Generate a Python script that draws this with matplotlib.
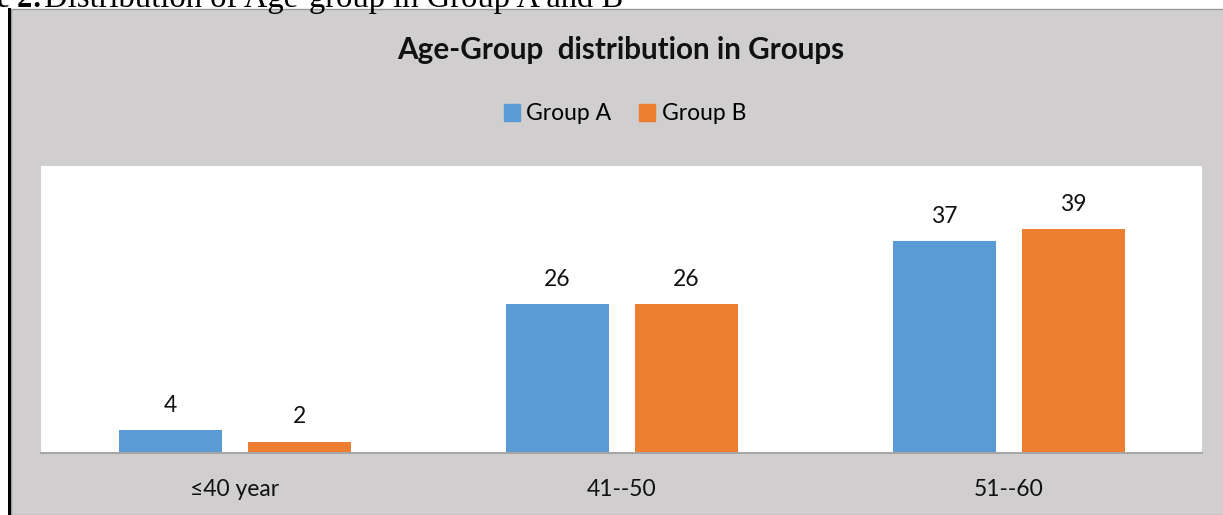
import matplotlib.pyplot as plt
import matplotlib.patches as mpatches
import numpy as np

# data
categories = ["\u226440 year", "41--50", "51--60"]
group_a = [4, 26, 37]
group_b = [2, 26, 39]
series_names = ["Group A", "Group B"]

W, H = 1223, 515
fig = plt.figure(figsize=(W / 100, H / 100), dpi=100)
fig.patch.set_facecolor("white")

def fx(px):
    return px / W

def fy(py):
    return 1 - py / H

# grey chart panel with the black page border on the left
fig.patches.append(mpatches.Rectangle((fx(11), 0), fx(W), fy(9), transform=fig.transFigure,
                                      facecolor="#D0CECE", edgecolor="#9A9A9A", lw=1, zorder=-2))
fig.patches.append(mpatches.Rectangle((fx(8), 0), fx(3), fy(8), transform=fig.transFigure,
                                      facecolor="black", edgecolor="none", zorder=-1))

# caption cut at the top of the page
fig.text(fx(-4), fy(7), "e 2:", family="Liberation Serif", fontweight="bold",
         fontsize=22, va="baseline", ha="left")
fig.text(fx(44), fy(7), "Distribution of Age-group in Group A and B", family="Liberation Serif",
         fontsize=23.5, va="baseline", ha="left")

ax = fig.add_axes([fx(41), 1 - 453 / H, fx(1202 - 41), (453 - 166) / H])
ax.set_facecolor("white")
ax.set_zorder(1)

x = np.arange(len(categories))
bw = 103 / 387
gap = 26 / 387
blue = "#5B9BD5"
orange = "#ED7D31"
b1 = ax.bar(x - (bw + gap) / 2, group_a, width=bw, color=blue, zorder=2)
b2 = ax.bar(x + (bw + gap) / 2, group_b, width=bw, color=orange, zorder=2)

for bars in (b1, b2):
    for r in bars:
        ax.annotate(str(int(r.get_height())), (r.get_x() + r.get_width() / 2, r.get_height()),
                    xytext=(0, 13), textcoords="offset points", ha="center", va="baseline",
                    family="Lato", fontsize=16.5, color="#111111")

ax.set_xlim(-0.5, 2.5)
ax.set_ylim(0, 50)
ax.set_yticks([])
for s in ["top", "left", "right"]:
    ax.spines[s].set_visible(False)
ax.spines["bottom"].set_color("#A6A6A6")
ax.spines["bottom"].set_linewidth(1.5)
ax.set_xticks(x)
ax.set_xticklabels(categories, family="Lato", fontsize=16.5, color="#111111")
ax.tick_params(axis="x", length=0, pad=19)

fig.text(fx(621), fy(50), "Age-Group  distribution in Groups", family="Lato", fontweight="bold",
         fontsize=21.3, ha="center", va="center", color="#111111")

handles = [mpatches.Patch(color=blue), mpatches.Patch(color=orange)]
fig.legend(handles, series_names, loc="center", bbox_to_anchor=(fx(625), fy(114)), ncol=2,
           frameon=False, prop={"family": "Lato", "size": 16.5}, handlelength=0.7, handleheight=0.7,
           handletextpad=0.3, columnspacing=1.2)

fig.savefig("out.png", dpi=100, facecolor=fig.get_facecolor())
